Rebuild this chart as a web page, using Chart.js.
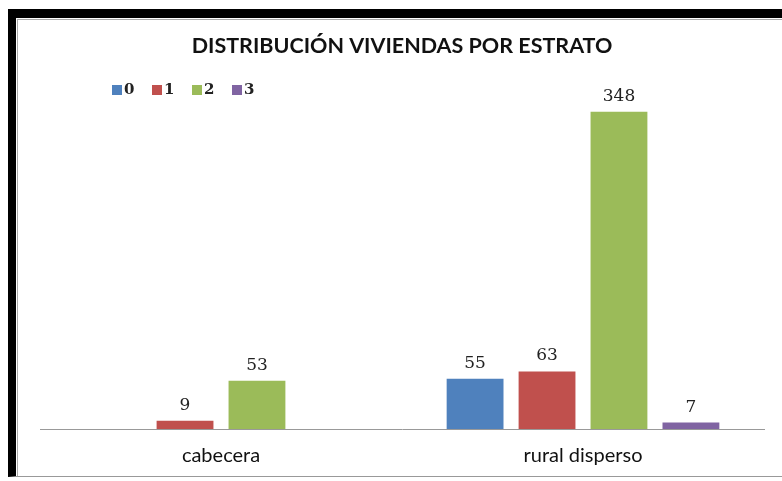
<!DOCTYPE html>
<html>
<head>
<meta charset="utf-8">
<script src="https://cdn.jsdelivr.net/npm/chart.js@4.4.0/dist/chart.umd.min.js"></script>
<style>
  html, body { margin: 0; padding: 0; background: #fff; }
  #wrap { position: relative; width: 782px; height: 481px; overflow: hidden; }
  #frame {
    position: absolute; left: 8px; top: 9px; width: 790px; height: 468px;
    border-top: 9px solid #000; border-left: 8px solid #000;
    border-bottom: 1px solid #999; box-sizing: border-box; pointer-events: none;
  }
  #inner {
    position: absolute; left: 17px; top: 19px; width: 780px; height: 456px;
    border-top: 1px solid #aaa; border-left: 1px solid #aaa; pointer-events: none;
  }
  canvas { position: absolute; left: 0; top: 0; }
</style>
</head>
<body>
<div id="wrap">
  <canvas id="myChart" width="782" height="481"></canvas>
  <div id="frame"></div>
  <div id="inner"></div>
</div>
<script>
// data
var categories = ["cabecera", "rural disperso"];
var seriesNames = ["0", "1", "2", "3"];
var estrato0 = [null, 55];
var estrato1 = [9, 63];
var estrato2 = [53, 348];
var estrato3 = [null, 7];
var colors = ["#4F81BD", "#C0504D", "#9BBB59", "#8064A2"];

function main(){
    drawChart();
}
main();

function drawChart(){
    var values = [estrato0, estrato1, estrato2, estrato3];
    var datasets = [];
    for (var i = 0; i < seriesNames.length; i++) {
        datasets.push({
            label: seriesNames[i],
            data: values[i],
            backgroundColor: colors[i],
            barPercentage: 0.79,
            categoryPercentage: 0.795
        });
    }

    // labels above bars
    var valueLabels = {
        id: 'valueLabels',
        afterDatasetsDraw: function(chart){
            var ctx = chart.ctx;
            ctx.save();
            ctx.font = '17px "DejaVu Serif"';
            ctx.fillStyle = '#222';
            ctx.textAlign = 'center';
            ctx.textBaseline = 'bottom';
            chart.data.datasets.forEach(function(ds, i){
                var meta = chart.getDatasetMeta(i);
                meta.data.forEach(function(bar, j){
                    var v = ds.data[j];
                    if (v == null) return;
                    ctx.fillText(v, bar.x, bar.y - 7);
                });
            });
            ctx.restore();
        }
    };

    // legend sitting inside the plot, like the original
    var sideLegend = {
        id: 'sideLegend',
        afterDraw: function(chart){
            var ctx = chart.ctx;
            ctx.save();
            ctx.font = 'bold 15px "DejaVu Serif"';
            ctx.textBaseline = 'middle';
            var x = 112, y = 90;
            chart.data.datasets.forEach(function(ds){
                ctx.fillStyle = ds.backgroundColor;
                ctx.fillRect(x, y - 5, 10, 10);
                ctx.fillStyle = '#222';
                ctx.fillText(ds.label, x + 12, y);
                x += 40;
            });
            ctx.restore();
        }
    };

    new Chart('myChart', {
        type: 'bar',
        data: {
            labels: categories,
            datasets: datasets
        },
        plugins: [valueLabels, sideLegend],
        options: {
            responsive: false,
            animation: false,
            layout: {
                padding: { left: 40, right: 18, bottom: -2 }
            },
            plugins: {
                legend: { display: false },
                tooltip: { enabled: false },
                title: {
                    display: true,
                    text: 'DISTRIBUCIÓN VIVIENDAS POR ESTRATO',
                    color: '#111',
                    font: { family: 'Lato', size: 21.5, weight: 'bold' },
                    padding: { top: 33, bottom: 42 }
                }
            },
            scales: {
                x: {
                    grid: { display: false, drawTicks: false },
                    border: { color: '#999', width: 1 },
                    ticks: {
                        color: '#111',
                        padding: 15,
                        font: { family: 'Lato', size: 20 }
                    }
                },
                y: {
                    display: false,
                    min: 0,
                    max: 360
                }
            }
        }
    });
}
</script>
</body>
</html>
